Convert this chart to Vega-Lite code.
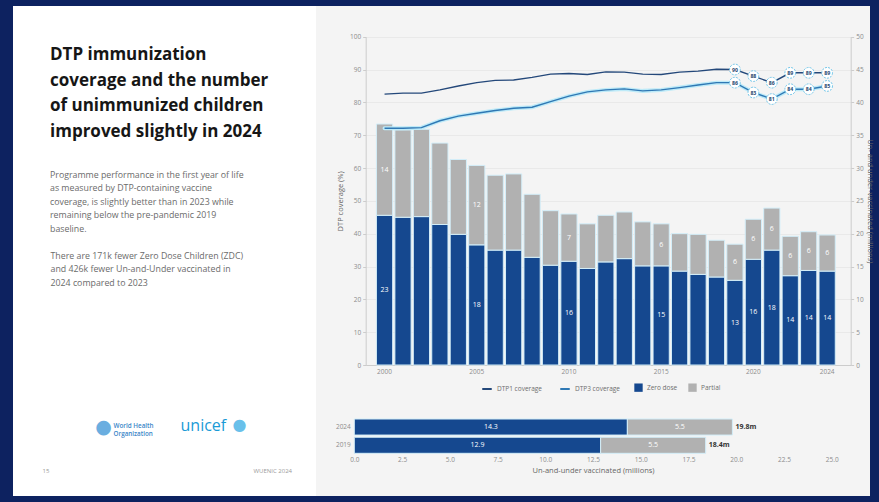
{
  "$schema": "https://vega.github.io/schema/vega-lite/v6.json",
  "width": 869,
  "height": 502,
  "autosize": {"type": "none"},
  "padding": {"left": 7, "right": 3, "top": 0, "bottom": 0},
  "background": "#0d2260",
  "title": {
    "text": ["DTP immunization", "coverage and the number", "of unimmunized children", "improved slightly in 2024"],
    "subtitle": [
      "Programme performance in the first year of life",
      "as measured by DTP-containing vaccine",
      "coverage, is slightly better than in 2023 while",
      "remaining below the pre-pandemic 2019",
      "baseline."
    ],
    "orient": "bottom",
    "anchor": "start",
    "frame": "group",
    "offset": 0,
    "dx": 43,
    "dy": -455,
    "font": "Open Sans",
    "fontSize": 17,
    "fontWeight": 700,
    "color": "#161616",
    "lineHeight": 25.6,
    "subtitleFont": "Open Sans",
    "subtitleFontSize": 8.8,
    "subtitleColor": "#6b6b6b",
    "subtitleLineHeight": 13.5,
    "subtitlePadding": 30
  },
  "config": {
    "font": "Open Sans",
    "view": {
      "fill": {
        "gradient": "linear",
        "x1": 0, "y1": 0, "x2": 1, "y2": 0,
        "stops": [
          {"offset": 0, "color": "#ffffff"},
          {"offset": 0.3556, "color": "#ffffff"},
          {"offset": 0.3556, "color": "#f4f4f4"},
          {"offset": 1, "color": "#f4f4f4"}
        ]
      },
      "stroke": "#0d2260",
      "strokeWidth": 12
    },
    "axis": {
      "labelFont": "Open Sans",
      "titleFont": "Open Sans",
      "labelFontSize": 6.5,
      "labelColor": "#8c8c8c",
      "titleFontSize": 7.5,
      "titleColor": "#666666",
      "titleFontWeight": "normal",
      "domainColor": "#cccccc",
      "tickColor": "#cccccc",
      "tickSize": 3,
      "gridColor": "#e9e9e9",
      "labelFlush": false
    },
    "legend": {"labelFont": "Open Sans", "labelFontSize": 6.5, "labelColor": "#6e6e6e"}
  },
  "datasets": {
    "annual": [
      {"year": 2000, "zero": 22.8, "partial": 13.9, "dtp1": 82.5, "dtp3": 72.1},
      {"year": 2001, "zero": 22.5, "partial": 13.3, "dtp1": 82.8, "dtp3": 72.1},
      {"year": 2002, "zero": 22.6, "partial": 13.3, "dtp1": 82.8, "dtp3": 72.3},
      {"year": 2003, "zero": 21.4, "partial": 12.4, "dtp1": 83.8, "dtp3": 74.4},
      {"year": 2004, "zero": 19.9, "partial": 11.4, "dtp1": 85.0, "dtp3": 75.8},
      {"year": 2005, "zero": 18.3, "partial": 12.1, "dtp1": 86.0, "dtp3": 76.7},
      {"year": 2006, "zero": 17.5, "partial": 11.4, "dtp1": 86.7, "dtp3": 77.5},
      {"year": 2007, "zero": 17.5, "partial": 11.6, "dtp1": 86.8, "dtp3": 78.2},
      {"year": 2008, "zero": 16.4, "partial": 9.6, "dtp1": 87.6, "dtp3": 78.5},
      {"year": 2009, "zero": 15.2, "partial": 8.3, "dtp1": 88.6, "dtp3": 80.2},
      {"year": 2010, "zero": 15.8, "partial": 7.2, "dtp1": 88.8, "dtp3": 81.9},
      {"year": 2011, "zero": 14.7, "partial": 6.8, "dtp1": 88.5, "dtp3": 83.2},
      {"year": 2012, "zero": 15.7, "partial": 7.1, "dtp1": 89.3, "dtp3": 83.8},
      {"year": 2013, "zero": 16.2, "partial": 7.1, "dtp1": 89.2, "dtp3": 84.1},
      {"year": 2014, "zero": 15.1, "partial": 6.7, "dtp1": 88.6, "dtp3": 83.5},
      {"year": 2015, "zero": 15.1, "partial": 6.4, "dtp1": 88.5, "dtp3": 83.8},
      {"year": 2016, "zero": 14.3, "partial": 5.7, "dtp1": 89.2, "dtp3": 84.5},
      {"year": 2017, "zero": 13.8, "partial": 6.1, "dtp1": 89.5, "dtp3": 85.3},
      {"year": 2018, "zero": 13.4, "partial": 5.6, "dtp1": 90.1, "dtp3": 86.0},
      {"year": 2019, "zero": 12.9, "partial": 5.5, "dtp1": 90, "dtp3": 86},
      {"year": 2020, "zero": 16.1, "partial": 6.1, "dtp1": 88, "dtp3": 83},
      {"year": 2021, "zero": 17.5, "partial": 6.4, "dtp1": 86, "dtp3": 81},
      {"year": 2022, "zero": 13.6, "partial": 6.0, "dtp1": 89, "dtp3": 84},
      {"year": 2023, "zero": 14.4, "partial": 5.9, "dtp1": 89, "dtp3": 84},
      {"year": 2024, "zero": 14.3, "partial": 5.5, "dtp1": 89, "dtp3": 85}
    ],
    "snapshot": [
      {"period": "2024", "zero": 14.3, "partial": 5.5, "total": 19.8},
      {"period": "2019", "zero": 12.9, "partial": 5.5, "total": 18.4}
    ]
  },
  "layer": [
    {
      "data": {"name": "annual"},
      "layer": [
        {
          "transform": [{"fold": ["zero", "partial"], "as": ["group", "millions"]}],
          "encoding": {
            "x": {
              "field": "year", "type": "ordinal",
              "scale": {"range": [358.7, 843.7], "paddingInner": 0.12, "paddingOuter": 0.71, "align": 0.41},
              "axis": {
                "orient": "bottom", "offset": -137, "values": [2000, 2005, 2010, 2015, 2020, 2024],
                "labelAngle": 0, "ticks": false, "labelPadding": 3, "grid": false,
                "title": "15", "titleX": 35, "titleY": 105, "titleAlign": "left", "titleBaseline": "middle",
                "titleFontSize": 6, "titleColor": "#9a9a9a"
              }
            },
            "order": {"field": "group", "sort": "descending"}
          },
          "layer": [
            {
              "mark": {"type": "bar", "stroke": "#d3eef9", "strokeWidth": 1},
              "encoding": {
                "y": {
                  "field": "millions", "type": "quantitative", "stack": "zero",
                  "scale": {"domain": [0, 50], "range": [365, 36.7], "nice": false},
                  "axis": {
                    "orient": "right", "offset": -25.3, "values": [0, 5, 10, 15, 20, 25, 30, 35, 40, 45, 50],
                    "title": "Un- and under-vaccinated (millions)", "titlePadding": 2, "labelPadding": 2, "grid": false
                  }
                },
                "fill": {
                  "field": "group", "type": "nominal",
                  "scale": {"domain": ["zero", "partial"], "range": ["#15488f", "#b1b1b1"]},
                  "legend": {
                    "orient": "none", "legendX": 627, "legendY": 383, "direction": "horizontal", "title": null,
                    "symbolType": "square", "symbolSize": 70, "symbolStrokeWidth": 0, "columnPadding": 10, "labelOffset": 4,
                    "labelExpr": "datum.label == 'zero' ? 'Zero dose' : 'Partial'"
                  }
                }
              }
            },
            {
              "transform": [{"filter": "datum.year % 5 == 0 || datum.year >= 2019"}],
              "mark": {"type": "text", "color": "#ffffff", "fontSize": 7, "baseline": "middle"},
              "encoding": {
                "y": {
                  "field": "millions", "type": "quantitative", "stack": "zero", "bandPosition": 0.5,
                  "scale": {"domain": [0, 50], "range": [365, 36.7], "nice": false},
                  "axis": {
                    "orient": "left", "offset": 0, "labels": false, "ticks": false, "domain": false, "grid": false,
                    "title": ["There are 171k fewer Zero Dose Children (ZDC)", "and 426k fewer Un-and-Under vaccinated in", "2024 compared to 2023"],
                    "titleX": 43, "titleY": 251, "titleAngle": 0, "titleAlign": "left", "titleBaseline": "top",
                    "titleFontSize": 8.8, "titleLineHeight": 13.5, "titleColor": "#6b6b6b"
                  }
                },
                "detail": {"field": "group"},
                "text": {"field": "millions", "type": "quantitative", "format": ".0f"}
              }
            }
          ],
          "resolve": {"axis": {"y": "independent"}}
        },
        {
          "transform": [{"fold": ["dtp1", "dtp3"], "as": ["series", "coverage"]}],
          "encoding": {
            "y": {
              "field": "coverage", "type": "quantitative",
              "scale": {"domain": [0, 100], "range": [365, 36.7], "nice": false},
              "axis": {
                "orient": "left", "offset": -358.7, "values": [0, 10, 20, 30, 40, 50, 60, 70, 80, 90, 100],
                "title": "DTP coverage (%)", "titlePadding": 5, "labelPadding": 2, "grid": true
              }
            }
          },
          "layer": [
            {
              "transform": [{"filter": "datum.series == 'dtp3'"}],
              "mark": {"type": "line", "stroke": "#bdeaf8", "strokeWidth": 4, "strokeCap": "round"},
              "encoding": {
                "x": {
                  "field": "year", "type": "ordinal",
                  "scale": {"range": [358.7, 843.7], "paddingInner": 0.12, "paddingOuter": 0.71, "align": 0.41},
                  "axis": {
                    "orient": "bottom", "offset": 0, "labels": false, "ticks": false, "domain": false, "grid": false,
                    "title": "●", "titleX": 96, "titleY": -76, "titleAlign": "center", "titleBaseline": "middle",
                    "titleFont": "DejaVu Sans", "titleFontSize": 19, "titleColor": "#6aaee0"
                  }
                }
              }
            },
            {
              "mark": {"type": "line", "strokeWidth": 1.4},
              "encoding": {
                "x": {
                  "field": "year", "type": "ordinal",
                  "scale": {"range": [358.7, 843.7], "paddingInner": 0.12, "paddingOuter": 0.71, "align": 0.41},
                  "axis": {
                    "orient": "bottom", "offset": 0, "labels": false, "ticks": false, "domain": false, "grid": false,
                    "title": ["World Health", "Organization"], "titleX": 106, "titleY": -76.5, "titleAlign": "left",
                    "titleBaseline": "middle", "titleFontSize": 6.3, "titleFontWeight": 600, "titleLineHeight": 7.5,
                    "titleColor": "#3a86c8"
                  }
                },
                "stroke": {
                  "field": "series", "type": "nominal",
                  "scale": {"domain": ["dtp1", "dtp3"], "range": ["#24487a", "#2f78b4"]},
                  "legend": {
                    "orient": "none", "legendX": 474, "legendY": 383, "direction": "horizontal", "title": null,
                    "symbolType": "stroke", "symbolStrokeWidth": 2, "symbolSize": 90, "columnPadding": 14, "labelOffset": 4,
                    "labelExpr": "datum.label == 'dtp1' ? 'DTP1 coverage' : 'DTP3 coverage'"
                  }
                }
              }
            },
            {
              "transform": [{"filter": "datum.year >= 2019"}],
              "mark": {"type": "circle", "size": 115, "fill": "#ffffff", "stroke": "#6fc5e9", "strokeWidth": 1, "strokeDash": [2, 1.2], "opacity": 1},
              "encoding": {
                "x": {
                  "field": "year", "type": "ordinal",
                  "scale": {"range": [358.7, 843.7], "paddingInner": 0.12, "paddingOuter": 0.71, "align": 0.41},
                  "axis": {
                    "orient": "bottom", "offset": 0, "labels": false, "ticks": false, "domain": false, "grid": false,
                    "title": "unicef", "titleX": 173, "titleY": -77, "titleAlign": "left", "titleBaseline": "middle",
                    "titleFontSize": 16, "titleColor": "#1a9ad6"
                  }
                }
              }
            },
            {
              "transform": [{"filter": "datum.year >= 2019"}],
              "mark": {"type": "text", "fontSize": 5.2, "fontWeight": "bold", "color": "#27476f", "baseline": "middle"},
              "encoding": {
                "x": {
                  "field": "year", "type": "ordinal",
                  "scale": {"range": [358.7, 843.7], "paddingInner": 0.12, "paddingOuter": 0.71, "align": 0.41},
                  "axis": {
                    "orient": "bottom", "offset": 0, "labels": false, "ticks": false, "domain": false, "grid": false,
                    "title": "●", "titleX": 232, "titleY": -78, "titleAlign": "center", "titleBaseline": "middle",
                    "titleFont": "DejaVu Sans", "titleFontSize": 16, "titleColor": "#69c0ea"
                  }
                },
                "text": {"field": "coverage", "type": "quantitative", "format": ".0f"}
              }
            }
          ],
          "resolve": {"axis": {"x": "independent"}}
        }
      ],
      "resolve": {"scale": {"y": "independent"}, "axis": {"x": "independent", "y": "independent"}}
    },
    {
      "data": {"name": "snapshot"},
      "transform": [{"fold": ["zero", "partial"], "as": ["group", "millions"]}],
      "encoding": {
        "y": {
          "field": "period", "type": "nominal",
          "scale": {"domain": ["2024", "2019"], "range": [419, 453.3], "paddingInner": 0.12, "paddingOuter": 0},
          "axis": {
            "orient": "left", "offset": -347.3, "domain": false, "ticks": false, "labelPadding": 4, "grid": false,
            "title": "WUENIC 2024", "titleX": -101.3, "titleY": 470, "titleAngle": 0, "titleAlign": "left",
            "titleBaseline": "middle", "titleFontSize": 6, "titleColor": "#9a9a9a"
          }
        },
        "order": {"field": "group", "sort": "descending"}
      },
      "layer": [
        {
          "mark": {"type": "bar", "stroke": "#d3eef9", "strokeWidth": 1},
          "encoding": {
            "x": {
              "field": "millions", "type": "quantitative", "stack": "zero",
              "scale": {"domain": [0, 25], "range": [347.3, 824.7], "nice": false},
              "axis": {
                "orient": "bottom", "offset": -47.5, "values": [0, 2.5, 5, 7.5, 10, 12.5, 15, 17.5, 20, 22.5, 25],
                "format": ".1f", "labelOverlap": false, "domain": false, "ticks": false, "grid": false, "labelPadding": 2,
                "title": "Un-and-under vaccinated (millions)", "titlePadding": 3
              }
            },
            "fill": {
              "field": "group", "type": "nominal",
              "scale": {"domain": ["zero", "partial"], "range": ["#15488f", "#b1b1b1"]},
              "legend": {
                "orient": "none", "legendX": 627, "legendY": 383, "direction": "horizontal", "title": null,
                "symbolType": "square", "symbolSize": 70, "symbolStrokeWidth": 0, "columnPadding": 10, "labelOffset": 4,
                "labelExpr": "datum.label == 'zero' ? 'Zero dose' : 'Partial'"
              }
            }
          }
        },
        {
          "mark": {"type": "text", "color": "#ffffff", "fontSize": 7, "baseline": "middle"},
          "encoding": {
            "x": {
              "field": "millions", "type": "quantitative", "stack": "zero", "bandPosition": 0.5,
              "scale": {"domain": [0, 25], "range": [347.3, 824.7], "nice": false}, "axis": null
            },
            "detail": {"field": "group"},
            "text": {"field": "millions", "type": "quantitative", "format": ".1f"}
          }
        },
        {
          "transform": [{"filter": "datum.group == 'zero'"}],
          "mark": {
            "type": "text", "align": "left", "baseline": "middle", "dx": 3, "fontSize": 7, "fontWeight": "bold",
            "color": "#333333", "text": {"expr": "format(datum.total, '.1f') + 'm'"}
          },
          "encoding": {
            "x": {
              "field": "total", "type": "quantitative",
              "scale": {"domain": [0, 25], "range": [347.3, 824.7], "nice": false}, "axis": null
            }
          }
        }
      ],
      "resolve": {"axis": {"x": "independent"}}
    }
  ],
  "resolve": {"scale": {"x": "independent", "y": "independent"}, "axis": {"x": "independent", "y": "independent"}}
}
